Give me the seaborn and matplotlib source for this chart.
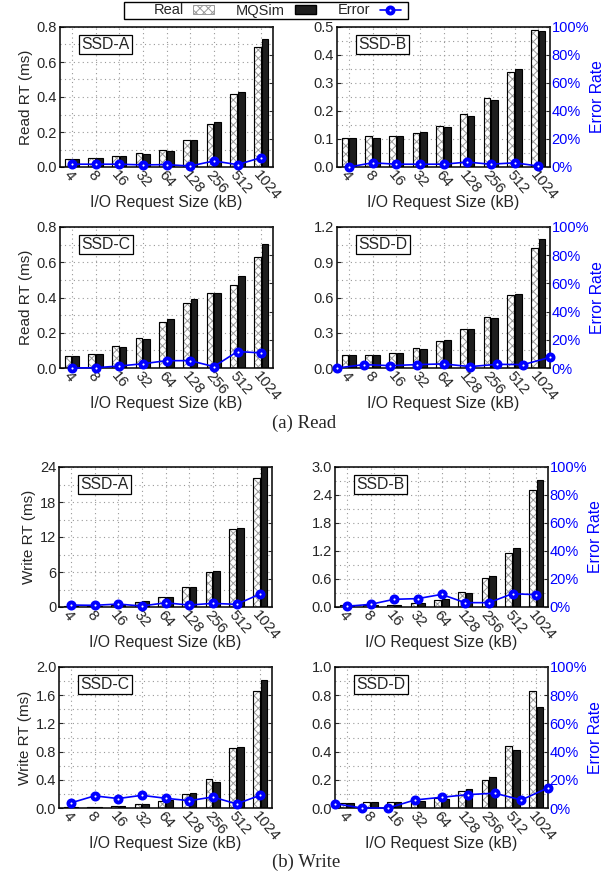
import numpy as np
import pandas as pd
import matplotlib
matplotlib.use("Agg")
import matplotlib.pyplot as plt
import seaborn as sns
from matplotlib.patches import Patch, Rectangle
from matplotlib.lines import Line2D
from matplotlib.ticker import MultipleLocator, FuncFormatter

sns.set_style("ticks")
plt.rcParams["font.family"] = ["Liberation Sans", "DejaVu Sans"]
plt.rcParams["hatch.linewidth"] = 0.7
plt.rcParams["axes.linewidth"] = 1.1

#### data ####
sizes = ["4", "8", "16", "32", "64", "128", "256", "512", "1024"]

read_a_real = [0.045, 0.050, 0.065, 0.078, 0.095, 0.153, 0.247, 0.420, 0.688]
read_a_sim = [0.045, 0.050, 0.063, 0.076, 0.093, 0.153, 0.258, 0.427, 0.733]
read_a_err = [0.020, 0.020, 0.020, 0.015, 0.017, 0.007, 0.043, 0.017, 0.067]

read_b_real = [0.105, 0.109, 0.111, 0.123, 0.146, 0.188, 0.245, 0.339, 0.488]
read_b_sim = [0.104, 0.104, 0.109, 0.126, 0.144, 0.182, 0.239, 0.350, 0.484]
read_b_err = [0.000, 0.030, 0.020, 0.020, 0.020, 0.035, 0.020, 0.030, 0.007]

read_c_real = [0.070, 0.082, 0.124, 0.168, 0.259, 0.368, 0.425, 0.469, 0.630]
read_c_sim = [0.070, 0.082, 0.120, 0.164, 0.276, 0.390, 0.423, 0.524, 0.703]
read_c_err = [0.000, 0.002, 0.014, 0.030, 0.052, 0.052, 0.010, 0.117, 0.107]

read_d_real = [0.111, 0.111, 0.131, 0.166, 0.229, 0.331, 0.431, 0.623, 1.023]
read_d_sim = [0.109, 0.114, 0.129, 0.160, 0.237, 0.329, 0.426, 0.634, 1.097]
read_d_err = [0.000, 0.024, 0.017, 0.024, 0.029, 0.010, 0.026, 0.024, 0.076]

write_a_real = [0.15, 0.2, 0.4, 0.9, 1.75, 3.5, 6.0, 13.3, 22.2]
write_a_sim = [0.15, 0.2, 0.4, 0.95, 1.8, 3.5, 6.1, 13.5, 24.5]
write_a_err = [0.014, 0.012, 0.021, 0.007, 0.030, 0.014, 0.026, 0.019, 0.093]

write_b_real = [0.04, 0.04, 0.05, 0.08, 0.16, 0.32, 0.63, 1.16, 2.50]
write_b_sim = [0.04, 0.04, 0.04, 0.08, 0.17, 0.31, 0.66, 1.27, 2.72]
write_b_err = [0.005, 0.019, 0.055, 0.060, 0.090, 0.031, 0.031, 0.095, 0.088]

write_c_real = [0.010, 0.010, 0.030, 0.050, 0.100, 0.200, 0.410, 0.850, 1.660]
write_c_sim = [0.010, 0.015, 0.030, 0.060, 0.120, 0.210, 0.370, 0.870, 1.810]
write_c_err = [0.036, 0.086, 0.067, 0.090, 0.069, 0.052, 0.078, 0.029, 0.090]

write_d_real = [0.035, 0.040, 0.045, 0.050, 0.070, 0.121, 0.200, 0.440, 0.830]
write_d_sim = [0.037, 0.042, 0.045, 0.052, 0.065, 0.135, 0.218, 0.413, 0.713]
write_d_err = [0.031, 0.000, 0.000, 0.057, 0.076, 0.095, 0.105, 0.057, 0.143]

BLUE = "#0000ff"
HATCH_GREY = "#9a9a9a"
W, H = 608, 875
ERR_STYLE = dict(color=BLUE, lw=1.2, marker="o", markersize=4.4,
                 markeredgewidth=2.8, markerfacecolor="white", markeredgecolor=BLUE)


def px_axes(x0, y0, x1, y1):
    return [x0 / W, 1 - y1 / H, (x1 - x0) / W, (y1 - y0) / H]


def panel(rect, name, real, sim, err, ymax, ystep, fmt, ylabel, right, full_span):
    x0, y0, x1, y1 = rect
    ax = fig.add_axes(px_axes(*rect))
    df = pd.DataFrame({
        "size": sizes * 2,
        "src": ["Real"] * len(sizes) + ["MQSim"] * len(sizes),
        "rt": real + sim,
    })
    sns.barplot(data=df, x="size", y="rt", hue="src", order=sizes,
                hue_order=["Real", "MQSim"],
                palette={"Real": "white", "MQSim": "#1e1e1e"},
                edgecolor="black", linewidth=0.8, width=0.64, gap=0.1,
                legend=False, ax=ax)
    # grey cross hatch on the Real bars, black outline on top
    for p in list(ax.containers[0]):
        p.set_hatch("xxxx")
        p.set_edgecolor(HATCH_GREY)
        ax.add_patch(Rectangle(p.get_xy(), p.get_width(), p.get_height(),
                               fill=False, ec="black", lw=0.8))
    ax.set_xlim(-0.5, 8.5)
    ax.set_ylim(0, ymax)
    ax.yaxis.set_major_locator(MultipleLocator(ystep))
    ax.yaxis.set_minor_locator(MultipleLocator(ystep / 2))
    ax.yaxis.set_major_formatter(FuncFormatter(lambda v, p: fmt.format(v)))
    ax.set_axisbelow(True)
    ax.grid(axis="y", which="both", ls=(0, (1, 3)), color="#999999", lw=0.8)
    ax.grid(axis="x", ls=(0, (1, 3)), color="#999999", lw=0.8)
    ax.tick_params(axis="y", which="major", direction="in", length=3, labelsize=10.5, pad=2)
    ax.tick_params(axis="y", which="minor", length=0)
    ax.tick_params(axis="x", direction="in", length=0, labelsize=11, pad=1)
    for lab in ax.get_xticklabels():
        lab.set_rotation(-50)
        lab.set_ha("left")
        lab.set_va("top")
        lab.set_rotation_mode("anchor")
    ax.set_xlabel("I/O Request Size (kB)", fontsize=11.3)
    ax.xaxis.set_label_coords(0.5, -28 / (y1 - y0))
    if ylabel:
        ax.set_ylabel(ylabel, fontsize=11, labelpad=3)
    else:
        ax.set_ylabel("")
    for s in ax.spines.values():
        s.set_color("black")
    ax.text(0.1, 0.875, name, transform=ax.transAxes, fontsize=11.3,
            ha="left", va="center",
            bbox=dict(boxstyle="square,pad=0.15", fc="white", ec="black", lw=0.9))

    # error rate on a second overlaid axis
    ax2 = fig.add_axes(px_axes(*rect), facecolor="none")
    xs = list(range(len(sizes)))
    sns.lineplot(x=xs, y=err, ax=ax2, clip_on=False, **ERR_STYLE)
    if full_span:
        ax2.set_xlim(0, len(sizes) - 1)
    else:
        ax2.set_xlim(-0.5, len(sizes) - 0.5)
    ax2.set_ylim(0, 1)
    ax2.set_xticks([])
    ax2.yaxis.tick_right()
    ax2.yaxis.set_label_position("right")
    ax2.set_yticks([0, 0.2, 0.4, 0.6, 0.8, 1.0])
    for s in ax2.spines.values():
        s.set_visible(False)
    if right:
        ax2.set_yticklabels(["0%", "20%", "40%", "60%", "80%", "100%"])
        ax2.tick_params(axis="y", direction="in", length=3, labelsize=10.5,
                        labelcolor=BLUE, pad=1)
        ax2.set_ylabel("Error Rate", color=BLUE, fontsize=11.3, labelpad=1)
    else:
        ax2.set_yticklabels([])
        ax2.tick_params(axis="y", direction="in", length=3)
    return ax


fig = plt.figure(figsize=(W / 100, H / 100), dpi=100)

panel((60, 27, 273, 167), "SSD-A", read_a_real, read_a_sim, read_a_err, 0.8, 0.2, "{:.1f}", "Read RT (ms)", False, False)
panel((337, 27, 550, 167), "SSD-B", read_b_real, read_b_sim, read_b_err, 0.5, 0.1, "{:.1f}", None, True, False)
panel((60, 227, 273, 368), "SSD-C", read_c_real, read_c_sim, read_c_err, 0.8, 0.2, "{:.1f}", "Read RT (ms)", False, False)
panel((337, 227, 550, 368), "SSD-D", read_d_real, read_d_sim, read_d_err, 1.2, 0.3, "{:.1f}", None, True, True)

panel((59, 467, 272, 607), "SSD-A", write_a_real, write_a_sim, write_a_err, 24, 6, "{:.0f}", "Write RT (ms)", False, False)
panel((335, 467, 548, 607), "SSD-B", write_b_real, write_b_sim, write_b_err, 3.0, 0.6, "{:.1f}", None, True, False)
panel((59, 667, 272, 808), "SSD-C", write_c_real, write_c_sim, write_c_err, 2.0, 0.4, "{:.1f}", "Write RT (ms)", False, False)
panel((335, 667, 548, 808), "SSD-D", write_d_real, write_d_sim, write_d_err, 1.0, 0.2, "{:.1f}", None, True, True)

fig.text(304 / W, 1 - 423 / H, "(a) Read", ha="center", va="center",
         fontsize=13.5, family=["Liberation Serif", "DejaVu Serif"])
fig.text(306 / W, 1 - 862 / H, "(b) Write", ha="center", va="center",
         fontsize=13.5, family=["Liberation Serif", "DejaVu Serif"])

# legend strip at the top
handles = [
    Patch(facecolor="white", edgecolor=HATCH_GREY, hatch="xxxx", lw=0.7),
    Patch(facecolor="#1e1e1e", edgecolor="black"),
    Line2D([], [], **ERR_STYLE),
]
fig.legend(handles, ["Real", "MQSim", "Error"], ncol=3, loc="center",
           bbox_to_anchor=(277 / W, 1 - 10.5 / H), markerfirst=False,
           frameon=False, fontsize=10.5, borderpad=0, columnspacing=1.5,
           handlelength=1.45, handleheight=0.55, handletextpad=0.65)
fig.patches.append(Rectangle((124 / W, 1 - 19 / H), 284 / W, 17 / H,
                             transform=fig.transFigure, fill=False,
                             ec="black", lw=1.0))

fig.savefig("out.png", dpi=100)
